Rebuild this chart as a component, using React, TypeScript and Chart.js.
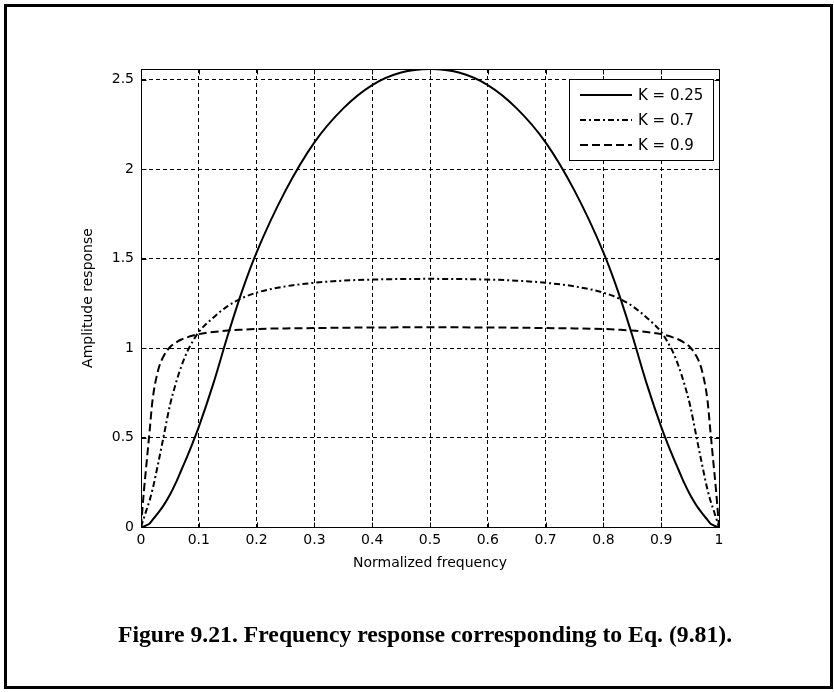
import React, { useEffect, useRef } from "react";
import { Chart, registerables } from "chart.js";

Chart.register(...registerables);

// Normalized frequency samples (shared by all series)
const freq = [
  0, 0.005, 0.01, 0.015, 0.02, 0.03, 0.04, 0.05, 0.06, 0.07, 0.08, 0.09, 0.1,
  0.125, 0.15, 0.175, 0.2, 0.25, 0.3, 0.35, 0.4, 0.45, 0.5,
  0.55, 0.6, 0.65, 0.7, 0.75, 0.8, 0.825, 0.85, 0.875, 0.9,
  0.91, 0.92, 0.93, 0.94, 0.95, 0.96, 0.97, 0.98, 0.985, 0.99, 0.995, 1,
];

// Amplitude response, K = 0.25 (solid)
const k025 = [
  0, 0.003, 0.01, 0.02, 0.04, 0.08, 0.125, 0.18, 0.245, 0.32, 0.395, 0.475, 0.56,
  0.8, 1.07, 1.32, 1.535, 1.88, 2.15, 2.34, 2.47, 2.54, 2.56,
  2.54, 2.47, 2.34, 2.15, 1.88, 1.535, 1.32, 1.07, 0.8, 0.56,
  0.475, 0.395, 0.32, 0.245, 0.18, 0.125, 0.08, 0.04, 0.02, 0.01, 0.003, 0,
];

// Amplitude response, K = 0.7 (dash-dot)
const k07 = [
  0, 0.05, 0.1, 0.15, 0.21, 0.36, 0.52, 0.68, 0.8, 0.9, 0.98, 1.04, 1.09,
  1.17, 1.235, 1.28, 1.31, 1.345, 1.365, 1.377, 1.383, 1.386, 1.387,
  1.386, 1.383, 1.377, 1.365, 1.345, 1.31, 1.28, 1.235, 1.17, 1.09,
  1.04, 0.98, 0.9, 0.8, 0.68, 0.52, 0.36, 0.21, 0.15, 0.1, 0.05, 0,
];

// Amplitude response, K = 0.9 (dashed)
const k09 = [
  0, 0.2, 0.37, 0.54, 0.71, 0.88, 0.96, 1.005, 1.03, 1.048, 1.06, 1.07, 1.078,
  1.09, 1.098, 1.103, 1.107, 1.11, 1.112, 1.114, 1.115, 1.116, 1.116,
  1.116, 1.115, 1.114, 1.112, 1.11, 1.107, 1.103, 1.098, 1.09, 1.078,
  1.07, 1.06, 1.048, 1.03, 1.005, 0.96, 0.88, 0.71, 0.54, 0.37, 0.2, 0,
];

const seriesLabels = ["K = 0.25", "K = 0.7", "K = 0.9"];

const xTicks = [0, 0.1, 0.2, 0.3, 0.4, 0.5, 0.6, 0.7, 0.8, 0.9, 1];
const xTickLabels = ["0", "0.1", "0.2", "0.3", "0.4", "0.5", "0.6", "0.7", "0.8", "0.9", "1"];
const yTicks = [0, 0.5, 1, 1.5, 2, 2.5];
const yTickLabels = ["0", "0.5", "1", "1.5", "2", "2.5"];

const xTitle = "Normalized frequency";
const yTitle = "Amplitude response";
const caption = "Figure 9.21. Frequency response corresponding to Eq. (9.81).";

const FONT = "'DejaVu Sans', 'Liberation Sans', sans-serif";

const dashes: number[][] = [[], [6, 3, 2, 3], [8, 4]];

const matlabBox = {
  id: "matlabBox",
  afterDraw(chart: any) {
    const { ctx, chartArea, scales } = chart;
    const { left, right, top, bottom } = chartArea;
    const xs = scales.x;
    const ys = scales.y;
    ctx.save();
    ctx.strokeStyle = "#000";
    ctx.lineWidth = 1;
    ctx.setLineDash([]);
    ctx.beginPath();
    const L = Math.round(left) + 0.5;
    const R = Math.round(right) + 0.5;
    const T = Math.round(top) + 0.5;
    const B = Math.round(bottom) + 0.5;
    ctx.moveTo(L, T);
    ctx.lineTo(R, T);
    ctx.lineTo(R, B);
    ctx.lineTo(L, B);
    ctx.closePath();
    const tl = 5;
    xTicks.forEach((v) => {
      const px = Math.round(xs.getPixelForValue(v)) + 0.5;
      ctx.moveTo(px, B);
      ctx.lineTo(px, B - tl);
      ctx.moveTo(px, T);
      ctx.lineTo(px, T + tl);
    });
    yTicks.forEach((v) => {
      const py = Math.round(ys.getPixelForValue(v)) + 0.5;
      ctx.moveTo(L, py);
      ctx.lineTo(L + tl, py);
      ctx.moveTo(R, py);
      ctx.lineTo(R - tl, py);
    });
    ctx.stroke();

    // legend inside the axes, top-right
    const bw = 144;
    const bh = 81;
    const bx = Math.round(right) - 6 - bw;
    const by = Math.round(top) + 10;
    ctx.fillStyle = "#fff";
    ctx.fillRect(bx, by, bw, bh);
    ctx.strokeRect(bx + 0.5, by + 0.5, bw, bh);
    const rows = [16, 41, 66];
    chart.data.datasets.forEach((ds: any, i: number) => {
      const ry = by + rows[i];
      ctx.save();
      ctx.strokeStyle = "#000";
      ctx.lineWidth = 2;
      ctx.setLineDash(ds.borderDash || []);
      ctx.beginPath();
      ctx.moveTo(bx + 11, ry);
      ctx.lineTo(bx + 63, ry);
      ctx.stroke();
      ctx.restore();
      ctx.fillStyle = "#000";
      ctx.font = `15px ${FONT}`;
      ctx.textBaseline = "middle";
      ctx.textAlign = "left";
      ctx.fillText(ds.label, bx + 69, ry + 1);
    });
    ctx.restore();
  },
};

export default function App() {
  const ref = useRef<HTMLCanvasElement | null>(null);

  useEffect(() => {
    if (!ref.current) return;
    const series = [k025, k07, k09];
    const chart = new Chart(ref.current, {
      type: "line",
      data: {
        datasets: series.map((vals, i) => ({
          label: seriesLabels[i],
          data: freq.map((f, j) => ({ x: f, y: vals[j] })),
          borderColor: "#000",
          backgroundColor: "#000",
          borderWidth: 2,
          borderDash: dashes[i],
          pointRadius: 0,
          fill: false,
          cubicInterpolationMode: "monotone" as const,
        })),
      },
      options: {
        animation: false,
        responsive: false,
        maintainAspectRatio: false,
        events: [],
        layout: { padding: { left: 0, top: 69, right: 115, bottom: 0 } },
        plugins: {
          legend: { display: false },
          tooltip: { enabled: false },
        },
        scales: {
          x: {
            type: "linear",
            min: 0,
            max: 1,
            afterBuildTicks: (scale: any) => {
              scale.ticks = xTicks.map((v) => ({ value: v }));
            },
            afterFit: (scale: any) => {
              scale.height = 165;
            },
            ticks: {
              autoSkip: false,
              maxRotation: 0,
              minRotation: 0,
              padding: 5,
              color: "#000",
              font: { family: FONT, size: 14 },
              callback: (_v: any, i: number) => xTickLabels[i],
            },
            grid: {
              color: "#000",
              lineWidth: 1,
              drawTicks: false,
            },
            border: { display: true, color: "#000", width: 1, dash: [4, 3] },
            title: {
              display: true,
              text: xTitle,
              color: "#000",
              font: { family: FONT, size: 14 },
              padding: { top: 0, bottom: 120 },
            },
          },
          y: {
            type: "linear",
            min: 0,
            max: 2.56,
            afterBuildTicks: (scale: any) => {
              scale.ticks = yTicks.map((v) => ({ value: v }));
            },
            afterFit: (scale: any) => {
              scale.width = 141;
            },
            ticks: {
              padding: 7,
              color: "#000",
              font: { family: FONT, size: 14 },
              callback: (_v: any, i: number) => yTickLabels[i],
            },
            grid: {
              color: "#000",
              lineWidth: 1,
              drawTicks: false,
            },
            border: { display: true, color: "#000", width: 1, dash: [4, 3] },
            title: {
              display: true,
              text: yTitle,
              color: "#000",
              font: { family: FONT, size: 14 },
              padding: { top: 80, bottom: 0 },
            },
          },
        },
      },
      plugins: [matlabBox],
    });
    return () => chart.destroy();
  }, []);

  return (
    <div style={{ position: "absolute", left: 0, top: 0, width: 834, height: 692, background: "#fff" }}>
      <div
        style={{
          position: "absolute",
          left: 4,
          top: 4,
          width: 829,
          height: 685,
          boxSizing: "border-box",
          border: "3px solid #000",
        }}
      />
      <canvas
        ref={ref}
        width={834}
        height={692}
        style={{ position: "absolute", left: 0, top: 0, width: 834, height: 692 }}
      />
      <div
        style={{
          position: "absolute",
          left: 0,
          top: 623,
          width: 850,
          textAlign: "center",
          fontFamily: "'Liberation Serif', 'Times New Roman', serif",
          fontWeight: "bold",
          fontSize: 23.7,
          lineHeight: "23.7px",
          color: "#000",
          whiteSpace: "nowrap",
        }}
      >
        {caption}
      </div>
    </div>
  );
}
